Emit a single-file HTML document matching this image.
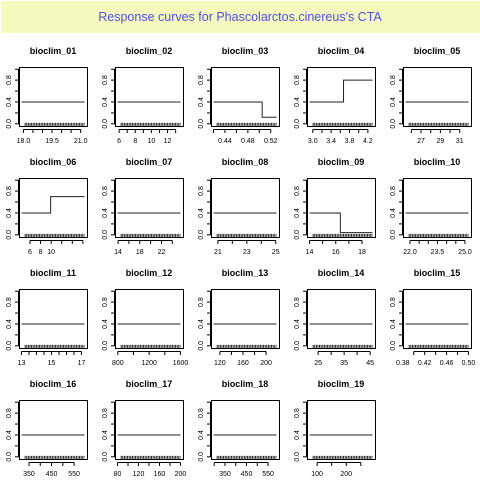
<!DOCTYPE html>
<html><head><meta charset="utf-8"><style>
html,body{margin:0;padding:0;background:#fff;width:480px;height:480px;overflow:hidden}
svg{display:block;font-family:"Liberation Sans",Arial,sans-serif}
</style></head><body>
<svg id="chart" width="480" height="480" viewBox="0 0 480 480">
<rect x="1" y="1" width="479" height="32" fill="#f5f9bd"/>
<text x="240" y="21" text-anchor="middle" font-size="12.5" fill="#4f4ff0">Response curves for Phascolarctos.cinereus's CTA</text>
</svg>
<script>
const names = ["bioclim_01","bioclim_02","bioclim_03","bioclim_04","bioclim_05","bioclim_06","bioclim_07","bioclim_08","bioclim_09","bioclim_10","bioclim_11","bioclim_12","bioclim_13","bioclim_14","bioclim_15","bioclim_16","bioclim_17","bioclim_18","bioclim_19"];
const xLo = [17.9,5.8,0.420,2.93,25.4,4.4,13.9,20.7,14.0,21.76,13.0,796,109,21.7,0.385,317,80,297,74];
const xHi = [21.2,13.6,0.530,4.30,31.9,16.3,25.5,25.05,18.8,25.19,17.2,1600,218,45.9,0.500,596,200,589,290];
const tickStep = [0.5,1,0.02,0.2,1,2,2,1,1,0.5,0.5,200,20,5,0.02,50,20,50,50];
const tickLabels = [["18.0","19.5","21.0"],["6","8","10","12"],["0.44","0.48","0.52"],["3.0","3.4","3.8","4.2"],["27","29","31"],["6","8","10"],["14","18","22"],["21","23","25"],["14","16","18"],["22.0","23.5","25.0"],["13","15","17"],["800","1200","1600"],["120","160","200"],["25","35","45"],["0.38","0.42","0.46","0.50"],["350","450","550"],["80","120","160","200"],["350","450","550"],["100","200"]];
const stepX = [[],[],[0.505],[3.67],[],[9.9],[],[],[16.35],[],[],[],[],[],[],[],[],[],[]];
const stepY = [[0.4],[0.4],[0.4,0.12],[0.4,0.8],[0.4],[0.4,0.7],[0.4],[0.4],[0.4,0.04],[0.4],[0.4],[0.4],[0.4],[0.4],[0.4],[0.4],[0.4],[0.4],[0.4]];
const yTicks = [0,0.2,0.4,0.6,0.8,1.0];
const yLabels = ["0.0","0.4","0.8"];

const NS="http://www.w3.org/2000/svg";
const svg=document.getElementById('chart');
function mk(tag,attrs,parent){const e=document.createElementNS(NS,tag);for(const k in attrs)e.setAttribute(k,attrs[k]);(parent||svg).appendChild(e);return e;}
const BW=68,BH=59;
names.forEach((nm,i)=>{
  const c=i%5,r=Math.floor(i/5);
  const bx=19+96*c, by=67+111*r;
  const g=mk('g',{});
  
  
  const lo=xLo[i],hi=xHi[i];
  const pad=(hi-lo)*0.04;
  const xs=v=>bx+(v-lo+pad)/(hi-lo+2*pad)*BW;
  const ys=v=>by+BH-(v+0.04)/1.08*BH;
  const t=mk('text',{x:bx+BW/2,y:by-13,'text-anchor':'middle','font-size':'9','font-weight':'bold',fill:'#000'},g);
  t.textContent=nm;
  
  
  const rug=mk('line',{x1:xs(lo+(hi-lo)*0.05),x2:xs(hi),y1:ys(0)+0.5,y2:ys(0)+0.5,stroke:'#222','stroke-width':'3','stroke-dasharray':'1 0.6'},g);
  
  
  const bks=stepX[i], vals=stepY[i];
  let d='M'+xs(lo)+' '+ys(vals[0]);
  bks.forEach((b,k)=>{d+=' L'+xs(b)+' '+ys(vals[k])+' L'+xs(b)+' '+ys(vals[k+1]);});
  d+=' L'+xs(hi)+' '+ys(vals[vals.length-1]);
  const p=mk('path',{d:d,fill:'none',stroke:'#222','stroke-width':'1'},g);
  
  
  const box=mk('rect',{x:bx+0.5,y:by+0.5,width:BW,height:BH,fill:'none',stroke:'#000','stroke-width':'1'},g);
  
  
  yTicks.forEach(v=>{const l=mk('line',{x1:bx-4,x2:bx+0.5,y1:ys(v),y2:ys(v),stroke:'#000','stroke-width':'1'},g);
    
    });
  mk('line',{x1:bx-0.5,x2:bx-0.5,y1:ys(0),y2:ys(1),stroke:'#000'},g);
  yLabels.forEach(s=>{const v=parseFloat(s),yy=ys(v);
    const tl=mk('text',{x:0,y:0,transform:`translate(${bx-8},${yy}) rotate(-90)`,'text-anchor':'middle','font-size':'7',fill:'#000'},g);
    tl.textContent=s;
    
    });
  const st=tickStep[i];
  const first=Math.ceil((lo-1e-9)/st);
  let ticks=[];
  for(let k=first;k*st<=hi+1e-9;k++)ticks.push(k*st);
  if(ticks.length){mk('line',{x1:xs(ticks[0]),x2:xs(ticks[ticks.length-1]),y1:by+BH+3.5,y2:by+BH+3.5,stroke:'#000'},g);}
  ticks.forEach(v=>{const l=mk('line',{x1:xs(v),x2:xs(v),y1:by+BH+3.5,y2:by+BH+7,stroke:'#000'},g);
    
    });
  tickLabels[i].forEach(s=>{const v=parseFloat(s);
    const tl=mk('text',{x:xs(v),y:by+BH+17,'text-anchor':'middle','font-size':'7',fill:'#000'},g);
    tl.textContent=s;
    
    });
});
</script>
</body></html>
